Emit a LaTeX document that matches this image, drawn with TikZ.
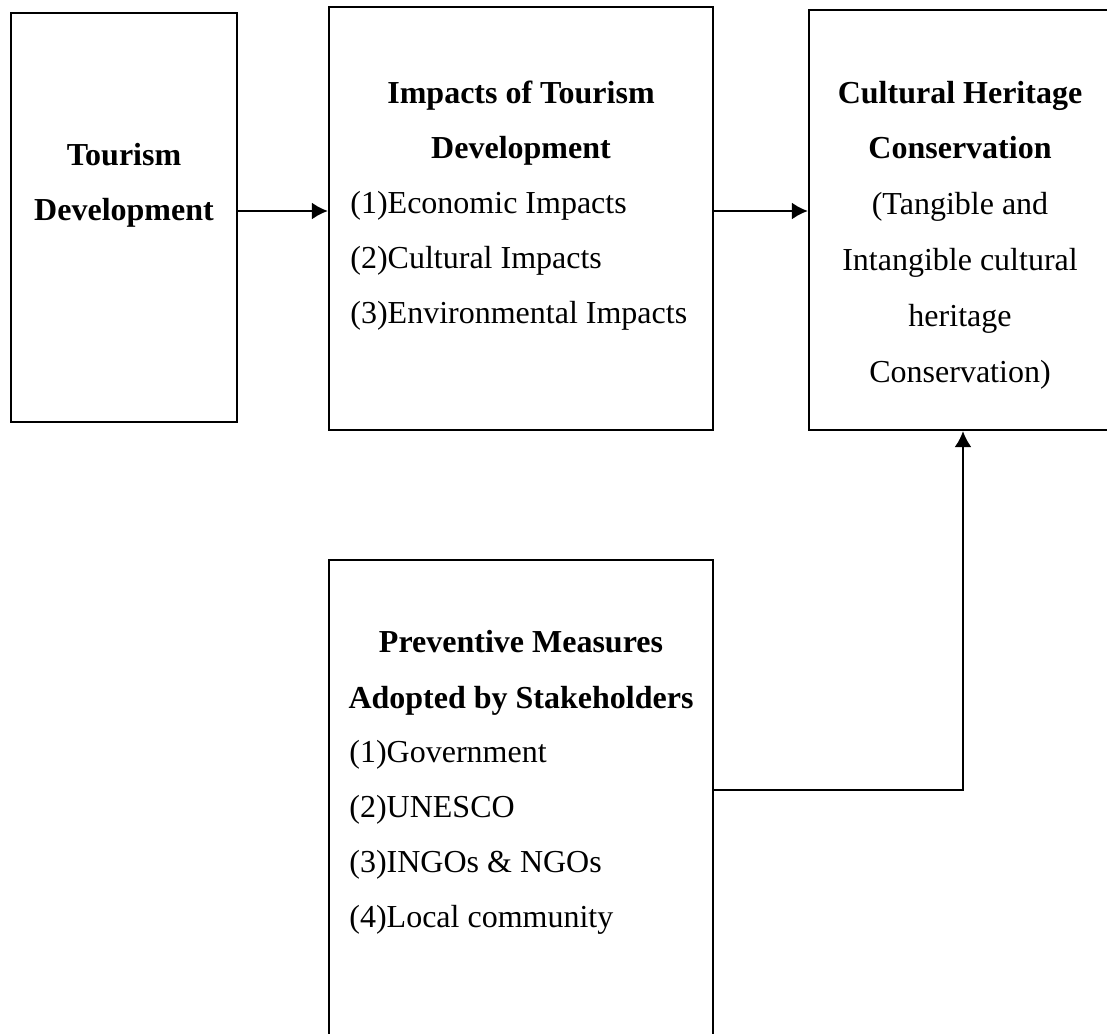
\documentclass[tikz,border=0pt]{standalone}
\usepackage{fontspec}
\setmainfont{Liberation Serif}
\usetikzlibrary{arrows.meta}

\begin{document}
\begin{tikzpicture}[x=0.5pt, y=-0.5pt,
    box/.style={draw, line width=1.1pt, inner sep=0pt},
    head/.style={inner sep=0pt, anchor=base, font=\fontsize{16}{27.5}\selectfont\bfseries},
    item/.style={inner sep=0pt, anchor=base west, font=\fontsize{16}{27.5}\selectfont},
    plain/.style={inner sep=0pt, anchor=base, font=\fontsize{16}{27.5}\selectfont},
    flow/.style={line width=1.1pt, -{Latex[length=8pt, width=8.5pt]}}]

    % Fix the page size
    \useasboundingbox (0,0) rectangle (1107,1033);

    % Draw boxes
    \node[box, minimum width=113pt, minimum height=204.5pt] (tourism) at (124,217.5) {};
    \node[box, minimum width=192pt, minimum height=211.5pt] (impacts) at (521,218.5) {};
    \node[box, minimum width=151pt, minimum height=210pt] (heritage) at (960,220) {};
    \node[box, minimum width=192pt, minimum height=242.5pt] (measures) at (521,802.5) {};

    % Tourism development
    \node[head] (tourismA) at (124,165) {Tourism};
    \node[head] (tourismB) at (124,220) {Development};

    % Impacts of tourism development
    \node[head] (impactsA) at (521,103) {Impacts of Tourism};
    \node[head] (impactsB) at (521,158) {Development};
    \foreach \txt [count=\i] in {{(1)Economic Impacts}, {(2)Cultural Impacts}, {(3)Environmental Impacts}}
        \node[item] (impact\i) at (350,158+55*\i) {\txt};

    % Cultural heritage conservation
    \node[head] (heritageA) at (960,103) {Cultural Heritage};
    \node[head] (heritageB) at (960,158) {Conservation};
    \foreach \txt [count=\i] in {{(Tangible and}, {Intangible cultural}, {heritage}, {Conservation)}}
        \node[plain] (heritage\i) at (960,158+56*\i) {\txt};

    % Preventive measures
    \node[head] (measuresA) at (521,652) {Preventive Measures};
    \node[head] (measuresB) at (521,708) {Adopted by Stakeholders};
    \foreach \txt [count=\i] in {{(1)Government}, {(2)UNESCO}, {(3)INGOs \& NGOs}, {(4)Local community}}
        \node[item] (measure\i) at (349,707+55*\i) {\txt};

    % Draw connectors
    \coordinate (row) at (0,211);
    \coordinate (bend) at (963,790);
    \draw[flow] (tourism.east |- row) -- (impacts.west |- row);
    \draw[flow] (impacts.east |- row) -- (heritage.west |- row);
    \draw[flow] (measures.east |- bend) -- (bend) -- (heritage.south -| bend);

\end{tikzpicture}
\end{document}
